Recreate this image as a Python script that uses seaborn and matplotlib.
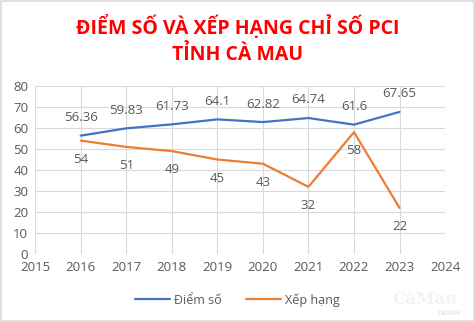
import matplotlib
matplotlib.use("Agg")
import matplotlib.pyplot as plt
import seaborn as sns
import pandas as pd

years = [2016, 2017, 2018, 2019, 2020, 2021, 2022, 2023]
diem_so = [56.36, 59.83, 61.73, 64.1, 62.82, 64.74, 61.6, 67.65]
xep_hang = [54, 51, 49, 45, 43, 32, 58, 22]
series_names = ["Điểm số", "Xếp hạng"]
title_text = "ĐIỂM SỐ VÀ XẾP HẠNG CHỈ SỐ PCI\nTỈNH CÀ MAU"

df = pd.DataFrame({
    "year": years * 2,
    "value": diem_so + xep_hang,
    "series": [series_names[0]] * len(years) + [series_names[1]] * len(years),
})

sns.set_style("white")
plt.rcParams["font.family"] = ["Open Sans", "DejaVu Sans"]

fig = plt.figure(figsize=(4.75, 3.22), dpi=100)
ax = fig.add_axes([0.074, 0.211, 0.863, 0.522])

palette = {series_names[0]: "#4472C4", series_names[1]: "#ED7D31"}
sns.lineplot(data=df, x="year", y="value", hue="series", palette=palette,
             linewidth=1.6, ax=ax, legend=False)

ax.set_xlim(2015, 2024)
ax.set_ylim(0, 80)
ax.set_xticks(range(2015, 2025))
ax.set_yticks(range(0, 81, 10))
ax.grid(True, color="#D9D9D9", linewidth=0.8)
for s in ax.spines.values():
    s.set_visible(False)
ax.tick_params(axis="both", length=0, labelsize=9.5, colors="#595959", pad=5)
ax.set_xlabel("")
ax.set_ylabel("")

for x, y in zip(years, diem_so):
    ax.annotate(f"{y:g}", (x, y), xytext=(0, 13), textcoords="offset points",
                ha="center", va="center", fontsize=9.5, color="#595959")
for x, y in zip(years, xep_hang):
    ax.annotate(f"{y:g}", (x, y), xytext=(0, -13.5), textcoords="offset points",
                ha="center", va="center", fontsize=9.5, color="#595959")

fig.text(0.5, 0.876, title_text, ha="center", va="center", fontsize=14,
         fontweight="bold", color="#FF0000", linespacing=1.4)

handles = [plt.Line2D([], [], color=palette[n], linewidth=1.6) for n in series_names]
fig.legend(handles, series_names, loc="center", bbox_to_anchor=(0.5, 0.068),
           ncol=2, frameon=False, fontsize=9, labelcolor="#595959",
           handlelength=2.8, handletextpad=0.3, columnspacing=2.0)

fig.text(0.895, 0.07, "CàMau", ha="center", va="center", fontsize=12,
         color="#F2F2F2", fontweight="bold", family="DejaVu Serif")
fig.text(0.945, 0.025, "Online", ha="center", va="center", fontsize=5,
         color="#E6E6E6", fontweight="bold")

fig.patches.append(plt.Rectangle((0.002, 0.003), 0.996, 0.994, transform=fig.transFigure,
                                 fill=False, edgecolor="#D9D9D9", linewidth=1.2))

fig.savefig("out.png", dpi=100)
